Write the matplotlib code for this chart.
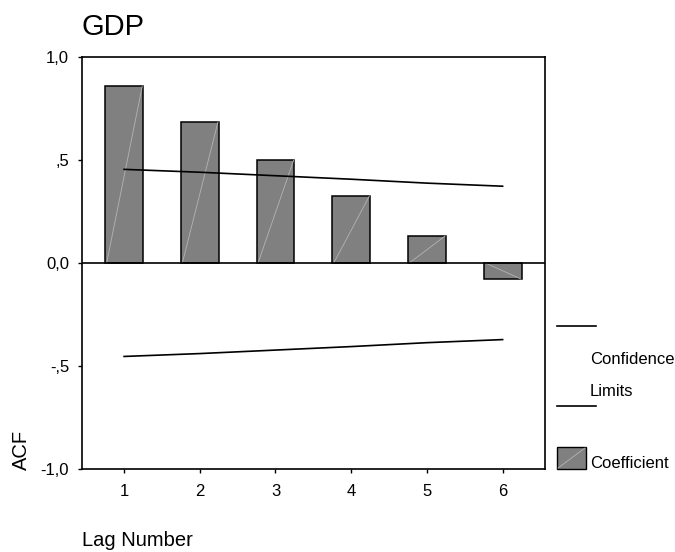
import matplotlib
matplotlib.use("Agg")
import matplotlib.pyplot as plt
import matplotlib.patches as mpatches
import matplotlib.lines as mlines

plt.rcParams['font.family'] = ['Liberation Sans', 'DejaVu Sans']

# Data
lags = [1, 2, 3, 4, 5, 6]
acf = [0.860, 0.685, 0.500, 0.325, 0.131, -0.078]
conf_upper = [0.455, 0.441, 0.424, 0.407, 0.388, 0.373]
conf_lower = [-0.455, -0.441, -0.424, -0.407, -0.388, -0.373]
yticks = [-1.0, -0.5, 0.0, 0.5, 1.0]
ytick_labels = ["-1,0", "-,5", "0,0", ",5", "1,0"]
title = "GDP"

W, H = 675, 552
fig = plt.figure(figsize=(W / 100, H / 100), dpi=100)
ax = fig.add_axes([81.7 / W, 1 - 468.5 / H, (545 - 81.7) / W, (468.5 - 57.3) / H])

bar_w = 0.5
ax.bar(lags, acf, width=bar_w, color="#808080", edgecolor="black", linewidth=1.1, zorder=2)
for x, v in zip(lags, acf):
    ax.plot([x - bar_w / 2 + 0.02, x + bar_w / 2 - 0.01], [0, v], color="#b4b4b4",
            linewidth=0.6, zorder=3)

ax.plot(lags, conf_upper, color="black", linewidth=1.2, zorder=4)
ax.plot(lags, conf_lower, color="black", linewidth=1.2, zorder=4)
ax.axhline(0, color="black", linewidth=1.2, zorder=5)

ax.set_xlim(0.44, 6.56)
ax.set_ylim(-1.0, 1.0)
ax.set_xticks(lags)
ax.set_xticklabels([str(l) for l in lags])
ax.set_yticks(yticks)
ax.set_yticklabels(ytick_labels)
ax.tick_params(axis='both', direction='out', length=3, width=1, labelsize=12)
ax.tick_params(axis='y', pad=6)
ax.tick_params(axis='x', pad=8.5)
for s in ax.spines.values():
    s.set_linewidth(1.2)

fig.text(81.7 / W, 1 - 27 / H, title, fontsize=21, ha='left', va='center')
fig.text(82 / W, 1 - 540 / H, "Lag Number", fontsize=14.5, ha='left', va='center')
fig.text(21 / W, 1 - 450 / H, "ACF", fontsize=14.5, ha='center', va='center', rotation=90)

# Legend (SPSS style) drawn in figure coordinates
def fx(px):
    return px / W

def fy(py):
    return 1 - py / H

fig.add_artist(mlines.Line2D([fx(557), fx(596)], [fy(325.7), fy(325.7)], color="black", linewidth=1.2))
fig.add_artist(mlines.Line2D([fx(557), fx(596)], [fy(405.7), fy(405.7)], color="black", linewidth=1.2))
fig.text(fx(590), fy(360), "Confidence", fontsize=12, ha='left', va='center')
fig.text(fx(590), fy(392), "Limits", fontsize=12, ha='left', va='center')
fig.add_artist(mpatches.Rectangle((fx(557), fy(469)), fx(586) - fx(557), fy(447) - fy(469),
                                  facecolor="#808080", edgecolor="black", linewidth=1.0,
                                  transform=fig.transFigure))
fig.add_artist(mlines.Line2D([fx(558), fx(585)], [fy(468), fy(448)], color="#b4b4b4", linewidth=0.6))
fig.text(fx(590), fy(463), "Coefficient", fontsize=12, ha='left', va='center')

fig.savefig("out.png", dpi=100)
